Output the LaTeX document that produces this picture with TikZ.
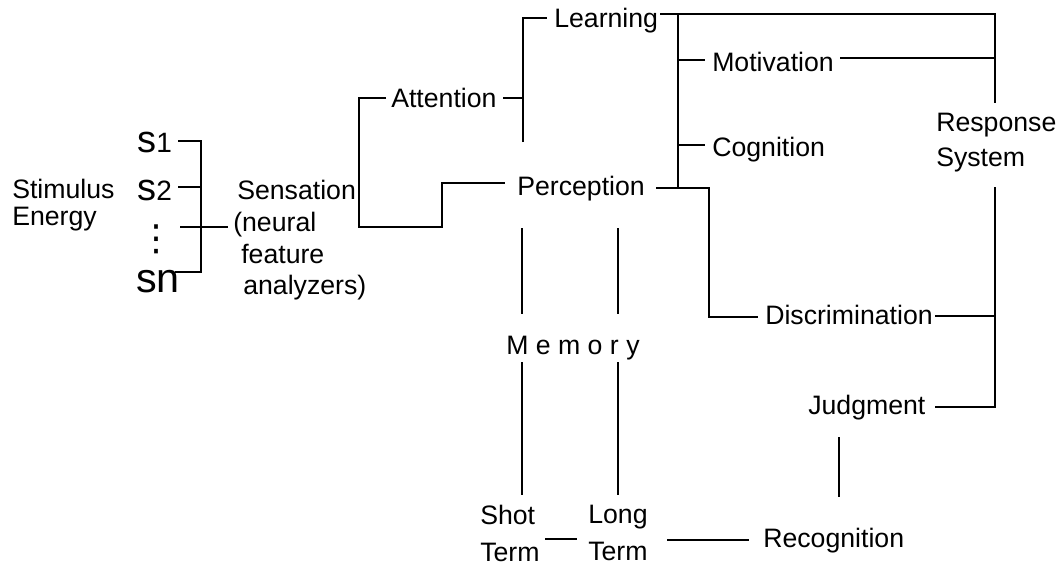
\documentclass[tikz,border=0pt]{standalone}
\usepackage{fontspec}
\setmainfont{Liberation Sans}
\newfontfamily\symfont{DejaVu Sans}
\begin{document}
\begin{tikzpicture}[x=0.75pt,y=-0.75pt,
  lbl/.style={inner sep=0pt, anchor=base west, font=\fontsize{20}{24}\selectfont},
  mlbl/.style={inner sep=0pt, anchor=north west, align=left},
  wire/.style={line width=1.5pt, line join=miter}
]
\useasboundingbox (0,0) rectangle (1059,567);

% ---- labels ----
\node[mlbl, font=\fontsize{20}{20.25}\selectfont] (stim) at (12,179) {Stimulus\\Energy};
\node[lbl] (s1) at (137,152) {{\fontsize{28.5}{30}\selectfont s}{\fontsize{21}{24}\selectfont 1}};
\node[lbl] (s2) at (137,200) {{\fontsize{28.5}{30}\selectfont s}{\fontsize{21}{24}\selectfont 2}};
\node[inner sep=0pt, anchor=center, text depth=0pt, font=\symfont\fontsize{27}{27}\selectfont] (dots) at (156,238) {⋮};
\node[lbl] (sn) at (136,292) {\fontsize{31}{32}\selectfont sn};
\node[mlbl, font=\fontsize{20}{23.8}\selectfont] (sens) at (233,180)
  {\hspace*{3pt}Sensation\\(neural\\\hspace*{6pt}feature\\\hspace*{7.5pt}analyzers)};
\node[lbl] (att)  at (391,108) {Attention};
\node[lbl] (learn) at (554,28) {Learning};
\node[lbl] (motiv) at (712,71) {Motivation};
\node[lbl] (cogn) at (712,156) {Cognition};
\node[lbl] (perc) at (517,195) {Perception};
\node[mlbl, font=\fontsize{20}{26}\selectfont] (resp) at (936,113) {Response\\System};
\node[lbl] (discr) at (765,324) {Discrimination};
\node[lbl] (judg) at (808,414) {Judgment};
\node[lbl] (recog) at (763,547) {Recognition};
\node[lbl] (mem) at (506,354) {M e m o r y};
\node[mlbl, font=\fontsize{20}{27.5}\selectfont] (short) at (480,505) {Shot\\Term};
\node[mlbl, font=\fontsize{20}{27.5}\selectfont] (long) at (588,505) {Long\\Term};

% ---- junction points ----
\coordinate (bTop) at (201,141);
\coordinate (bMid) at (201,187);
\coordinate (bOut) at (201,227);
\coordinate (bBot) at (201,272);
\coordinate (aTop) at (359,98);
\coordinate (aBot) at (359,227);
\coordinate (lTop) at (523,18);
\coordinate (lMid) at (523,98);
\coordinate (tTop) at (678,14);
\coordinate (tBot) at (678,188);
\coordinate (rTop) at (995,14);
\coordinate (rMot) at (995,58);
\coordinate (rDis) at (995,316);
\coordinate (rJud) at (995,407);

% ---- stimulus bracket ----
\draw[wire] (178,141) -- (bTop) -- (bBot) -- (175,272);
\draw[wire] (178,187) -- (bMid);
\draw[wire] (180,227) -- (bOut) -- (228,227);

% ---- sensation to attention / perception ----
\draw[wire] (386,98) -- (aTop) -- (aBot) -- (442,227) -- (442,183) -- (505,183);

% ---- attention to learning ----
\draw[wire] (503,98) -- (lMid);
\draw[wire] (523,142) -- (lTop) -- (547,18);

% ---- learning to response system ----
\draw[wire] (660,14) -- (rTop) -- (995,103);
\draw[wire] (tTop) -- (tBot);
\draw[wire] (678,60) -- (705,60);
\draw[wire] (678,145) -- (705,145);
\draw[wire] (840,58) -- (rMot);

% ---- perception to discrimination ----
\draw[wire] (656,188) -- (709,188) -- (709,317) -- (758,317);
\draw[wire] (935,316) -- (rDis);
\draw[wire] (995,187) -- (rJud) -- (935,407);

% ---- judgment / recognition ----
\draw[wire] (839,437) -- (839,497);
\draw[wire] (667,540) -- (749,540);

% ---- memory ----
\draw[wire] (522,228) -- (522,314);
\draw[wire] (618,228) -- (618,314);
\draw[wire] (522,362) -- (522,495);
\draw[wire] (618,362) -- (618,495);
\draw[wire] (545,539) -- (577,539);
\end{tikzpicture}
\end{document}
